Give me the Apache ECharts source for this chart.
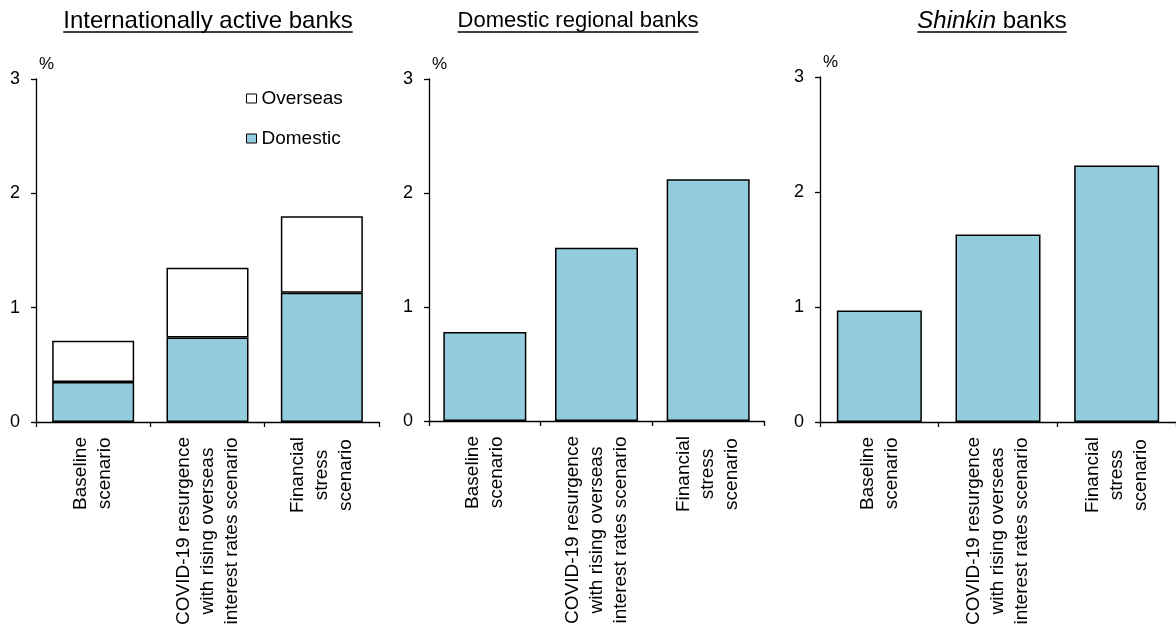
<!DOCTYPE html>
<html><head><meta charset="utf-8">
<script src="https://cdn.jsdelivr.net/npm/echarts@6/dist/echarts.min.js"></script>
<style>html,body{margin:0;padding:0;background:#fff}#c{width:1176px;height:634px}</style>
</head><body><div id="c"></div>
<script>
// ---- data ----
const categories = ['Baseline\nscenario', 'COVID-19 resurgence\nwith rising overseas\ninterest rates scenario', 'Financial\nstress\nscenario'];
const panelTitles = ['Internationally active banks', 'Domestic regional banks', 'Shinkin banks'];
const legendNames = ['Overseas', 'Domestic'];
const intlDomestic = [0.35, 0.74, 1.13];
const intlOverseas = [0.36, 0.61, 0.67];
const regionalTotal = [0.78, 1.52, 2.12];
const shinkinTotal = [0.97, 1.63, 2.23];
const yMin = 0, yMax = 3, yStep = 1;
const yUnit = '%';

// ---- style ----
const FONT = '"Liberation Sans", Arial, sans-serif';
const BLUE = '#93CCDD';
const grids = [
  {left: 36, top: 79, width: 343, height: 343},
  {left: 429, top: 79, width: 335, height: 342},
  {left: 820, top: 77, width: 358, height: 345}
];
const barWidths = [82, 83, 85];
const titleCenters = [208, 578, 992];
const titleSizes = [24, 22, 24];

const ctx = document.createElement('canvas').getContext('2d');
function tw(t, size, pre) { ctx.font = (pre || '') + size + 'px "Liberation Sans"'; return ctx.measureText(t).width; }

const xAxes = grids.map((g, i) => ({
  type: 'category', gridIndex: i, data: categories, boundaryGap: true,
  axisLine: {show: true, lineStyle: {color: '#000', width: 1.3}},
  axisTick: {show: true, length: 5, lineStyle: {color: '#000', width: 1.3}},
  axisLabel: {
    interval: 0, rotate: 90, margin: 15, color: '#000',
    fontFamily: FONT, fontSize: 19, lineHeight: 24,
    formatter: v => v.split('\n').map(s => '{c|' + s + '}').join('\n'),
    rich: {c: {align: 'center', fontFamily: FONT, fontSize: 19, lineHeight: 24, color: '#000'}}
  },
  splitLine: {show: false}
}));
const yAxes = grids.map((g, i) => ({
  type: 'value', gridIndex: i, min: yMin, max: yMax, interval: yStep,
  name: yUnit, nameLocation: 'end', nameGap: 6,
  nameTextStyle: {fontFamily: FONT, fontSize: 17, color: '#000', align: 'left', padding: [0, 0, 0, 3]},
  axisLine: {show: true, lineStyle: {color: '#000', width: 1.3}},
  axisTick: {show: true, length: 5, lineStyle: {color: '#000', width: 1.3}},
  axisLabel: {margin: 16, color: '#000', fontFamily: FONT, fontSize: 18},
  splitLine: {show: false}
}));

const barStyle = (c) => ({color: c, borderColor: '#000', borderWidth: 1.5});
const series = [
  {name: 'Domestic', type: 'bar', xAxisIndex: 0, yAxisIndex: 0, stack: 'a', data: intlDomestic, barWidth: barWidths[0], itemStyle: barStyle(BLUE)},
  {name: 'Overseas', type: 'bar', xAxisIndex: 0, yAxisIndex: 0, stack: 'a', data: intlOverseas, barWidth: barWidths[0], itemStyle: barStyle('#fff')},
  {name: 'Domestic regional', type: 'bar', xAxisIndex: 1, yAxisIndex: 1, data: regionalTotal, barWidth: barWidths[1], itemStyle: barStyle(BLUE)},
  {name: 'Shinkin', type: 'bar', xAxisIndex: 2, yAxisIndex: 2, data: shinkinTotal, barWidth: barWidths[2], itemStyle: barStyle(BLUE)}
];

// titles with underline
const graphics = [];
const TY = 21, UY = 32;
[0, 1].forEach(i => {
  const w = tw(panelTitles[i], titleSizes[i]);
  graphics.push({type: 'text', style: {text: panelTitles[i], x: titleCenters[i], y: TY, align: 'center', verticalAlign: 'middle', font: titleSizes[i] + 'px ' + FONT, fill: '#000'}});
  graphics.push({type: 'line', shape: {x1: titleCenters[i] - w / 2, y1: UY, x2: titleCenters[i] + w / 2, y2: UY}, style: {stroke: '#000', lineWidth: 1.3}});
});
{
  const s = titleSizes[2];
  const parts = panelTitles[2].split(' ');
  const w = tw(parts[0], s, 'italic ') + tw(' ' + parts.slice(1).join(' '), s);
  graphics.push({type: 'text', style: {
    text: '{i|' + parts[0] + '}{n| ' + parts.slice(1).join(' ') + '}',
    x: titleCenters[2], y: TY, align: 'center', verticalAlign: 'middle', fill: '#000',
    rich: {i: {fontStyle: 'italic', fontSize: s, fontFamily: FONT, fill: '#000'}, n: {fontSize: s, fontFamily: FONT, fill: '#000'}}
  }});
  graphics.push({type: 'line', shape: {x1: titleCenters[2] - w / 2, y1: UY, x2: titleCenters[2] + w / 2, y2: UY}, style: {stroke: '#000', lineWidth: 1.3}});
}

const chart = echarts.init(document.getElementById('c'), null, {renderer: 'canvas'});
chart.setOption({
  animation: false,
  backgroundColor: '#fff',
  textStyle: {fontFamily: FONT},
  grid: grids,
  xAxis: xAxes,
  yAxis: yAxes,
  legend: {
    data: legendNames, orient: 'vertical', left: 246, top: 89, padding: 0,
    itemWidth: 10, itemHeight: 9, itemGap: 21, icon: 'rect',
    itemStyle: {borderColor: '#000', borderWidth: 1},
    textStyle: {fontFamily: FONT, fontSize: 19, color: '#000'},
    selectedMode: false
  },
  series: series,
  graphic: graphics
});
</script></body></html>
